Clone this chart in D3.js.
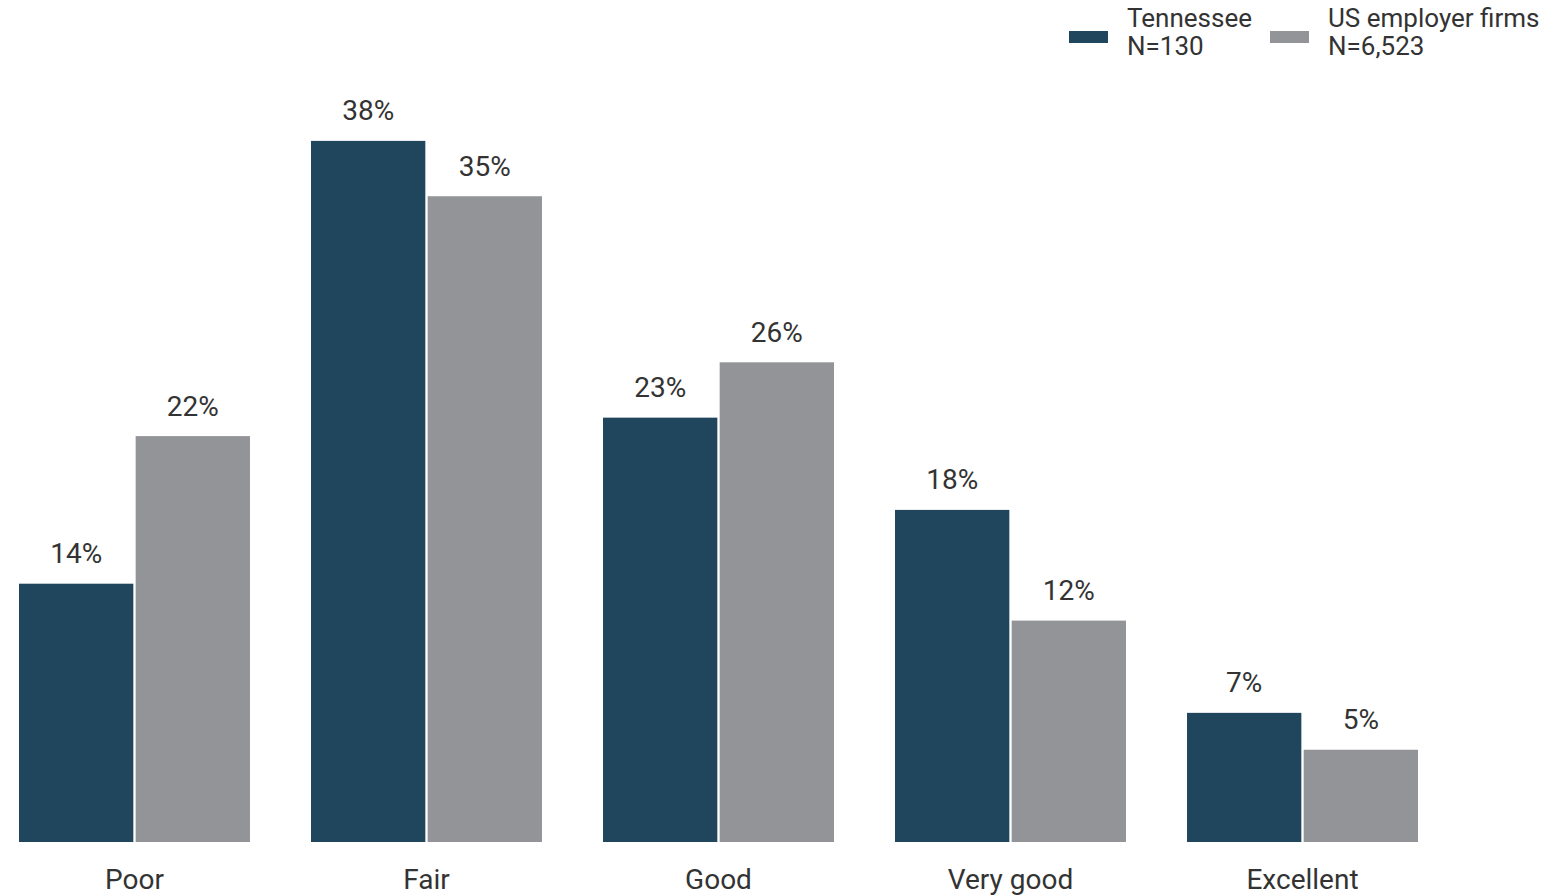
<!DOCTYPE html>
<html>
<head>
<meta charset="utf-8">
<script src="https://cdn.jsdelivr.net/npm/d3@7"></script>
<style>
  html, body { margin: 0; padding: 0; background: #fff; }
  svg { display: block; font-family: Roboto, "Noto Sans", sans-serif; }
</style>
</head>
<body>
<svg id="chart" width="1553" height="895"></svg>
<script>
const categories = ["Poor", "Fair", "Good", "Very good", "Excellent"];
const seriesNames = ["Tennessee", "US employer firms"];
const seriesN = ["N=130", "N=6,523"];
const tennessee = [14, 38, 23, 18, 7];
const usFirms = [22, 35, 26, 12, 5];
const colors = ["#1f465c", "#939498"];

const svg = d3.select("#chart");
const baseY = 842;

const x0 = d3.scaleBand().domain(categories).range([19, 1418]).paddingInner(0.209).paddingOuter(0);
const x1 = d3.scaleBand().domain(seriesNames).range([0, x0.bandwidth()]).paddingInner(0.02);
const y = d3.scaleLinear().domain([0, 38]).range([baseY, baseY - 38 * 18.45]);

const rows = categories.map((c, i) => ({ cat: c, vals: [tennessee[i], usFirms[i]] }));

const g = svg.append("g");
const grp = g.selectAll("g.grp").data(rows).join("g")
  .attr("transform", d => `translate(${x0(d.cat)},0)`);

grp.selectAll("rect").data(d => d.vals.map((v, j) => ({ v, s: seriesNames[j], j })))
  .join("rect")
  .attr("x", d => x1(d.s))
  .attr("y", d => y(d.v))
  .attr("width", x1.bandwidth())
  .attr("height", d => y(0) - y(d.v))
  .attr("fill", d => colors[d.j]);

grp.selectAll("text.val").data(d => d.vals.map((v, j) => ({ v, s: seriesNames[j], j })))
  .join("text")
  .attr("class", "val")
  .attr("x", d => x1(d.s) + x1.bandwidth() / 2)
  .attr("y", d => y(d.v) - 20.5)
  .attr("text-anchor", "middle")
  .attr("font-size", 28)
  .attr("fill", "#333")
  .text(d => d.v + "%");

// category axis
const xAxis = d3.axisBottom(x0).tickSize(0).tickPadding(0);
const ax = svg.append("g").attr("transform", `translate(0,${baseY})`).call(xAxis);
ax.select(".domain").remove();
ax.selectAll("text")
  .attr("font-size", 28)
  .attr("font-family", "Roboto, 'Noto Sans', sans-serif")
  .attr("fill", "#333")
  .attr("dy", null)
  .attr("y", 47);

// legend
const legX = [1069, 1270];
const leg = svg.append("g");
seriesNames.forEach((s, i) => {
  leg.append("rect").attr("x", legX[i]).attr("y", 31).attr("width", 39).attr("height", 12).attr("fill", colors[i]);
  const t = leg.append("text").attr("x", legX[i] + 58).attr("y", 27).attr("font-size", 26).attr("fill", "#333");
  t.append("tspan").attr("x", legX[i] + 58).attr("y", 27).text(s);
  t.append("tspan").attr("x", legX[i] + 58).attr("y", 55).text(seriesN[i]);
});
</script>
</body>
</html>
